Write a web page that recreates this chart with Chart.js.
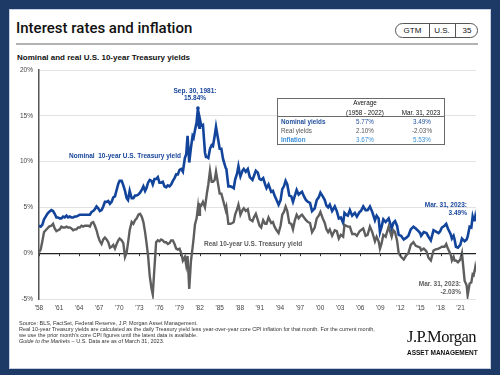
<!DOCTYPE html>
<html>
<head>
<meta charset="utf-8">
<script src="https://cdn.jsdelivr.net/npm/chart.js@4.4.1/dist/chart.umd.min.js"></script>
<style>
html, body { margin: 0; padding: 0; }
body { width: 500px; height: 375px; background: #1d3966; position: relative; overflow: hidden; font-family: "Liberation Sans", Arial, sans-serif; }
#panel { position: absolute; left: 9px; top: 9px; width: 482px; height: 360px; background: #fff; border: 1px solid #c5cfdf; box-sizing: border-box; }
#chart { position: absolute; left: 0; top: 0; }
.t { position: absolute; white-space: nowrap; line-height: 1; }
.title { left: 16px; top: 21px; font-family: Roboto, "Liberation Sans", sans-serif; font-weight: 500; font-size: 15px; color: #111; }
.rule { position: absolute; left: 16px; top: 43px; width: 462px; height: 2px; background: #b3b3b3; }
.badge { position: absolute; left: 395px; top: 23px; width: 83px; height: 15px; border: 1px solid #555; border-radius: 8px; box-sizing: border-box; }
.badge span { position: absolute; top: 3px; font-size: 8px; line-height: 1; color: #111; transform: translateX(-50%); }
.badge i { position: absolute; top: 0; width: 1px; height: 13px; background: #555; }
.sub { left: 17px; top: 54px; font-size: 8px; font-weight: bold; color: #111; }
.ann { font-size: 6.5px; font-weight: bold; }
.blue { color: #17459a; }
.grey { color: #5e5e5e; }
.tbl { position: absolute; left: 277px; top: 98px; width: 168px; height: 47px; border: 1.5px solid #6a6a6a; box-sizing: border-box; background: #fff; }
.tbl .hr { position: absolute; left: 0; right: 0; top: 17px; height: 1px; background: #6a6a6a; }
.tt { font-size: 6.3px; }
.c { transform: translateX(-50%); }
.r { transform: translateX(-100%); text-align: right; }
.foot { left: 19px; top: 319.5px; font-size: 5.5px; line-height: 6.1px; color: #333; }
.logo { left: 407px; top: 328.5px; font-family: "Liberation Serif", serif; font-size: 16.5px; letter-spacing: -0.5px; color: #111; }
.am { left: 407px; top: 350px; font-size: 6.5px; font-weight: bold; color: #111; }
</style>
</head>
<body>
<div id="panel"></div>
<div class="t title">Interest rates and inflation</div>
<div class="rule"></div>
<div class="badge">
  <span style="left:16.5px">GTM</span><i style="left:33px"></i>
  <span style="left:46px">U.S.</span><i style="left:58.5px"></i>
  <span style="left:71px">35</span>
</div>
<div class="t sub">Nominal and real U.S. 10-year Treasury yields</div>

<canvas id="chart" width="500" height="375"></canvas>

<div class="t ann blue c" style="left:195px;top:88px">Sep. 30, 1981:</div>
<div class="t ann blue c" style="left:195px;top:95px">15.84%</div>
<div class="t ann blue" style="left:69px;top:153px">Nominal&nbsp; 10-year U.S. Treasury yield</div>
<div class="t ann grey" style="left:204px;top:241px">Real 10-year U.S. Treasury yield</div>
<div class="t ann blue r" style="left:467px;top:202px">Mar. 31, 2023:</div>
<div class="t ann blue r" style="left:467px;top:210px">3.49%</div>
<div class="t ann grey r" style="left:461px;top:281px">Mar. 31, 2023:</div>
<div class="t ann grey r" style="left:461px;top:289px">-2.03%</div>

<div class="tbl"><div class="hr"></div></div>
<div class="t tt c" style="left:365px;top:100px;color:#111">Average</div>
<div class="t tt c" style="left:365px;top:109.5px;color:#111">(1958 - 2022)</div>
<div class="t tt c" style="left:421px;top:109.5px;color:#111">Mar. 31, 2023</div>
<div class="t tt" style="left:281px;top:119px;color:#1f4e9b;font-weight:bold">Nominal yields</div>
<div class="t tt c" style="left:365px;top:119px;color:#1f4e9b">5.77%</div>
<div class="t tt c" style="left:422px;top:119px;color:#1f4e9b">3.49%</div>
<div class="t tt" style="left:281px;top:128px;color:#555">Real yields</div>
<div class="t tt c" style="left:365px;top:128px;color:#555">2.10%</div>
<div class="t tt c" style="left:422px;top:128px;color:#555">-2.03%</div>
<div class="t tt" style="left:281px;top:137px;color:#3a8fd8;font-weight:bold">Inflation</div>
<div class="t tt c" style="left:365px;top:137px;color:#3a8fd8">3.67%</div>
<div class="t tt c" style="left:422px;top:137px;color:#3a8fd8">5.53%</div>

<div class="t foot">Source: BLS, FactSet, Federal Reserve, J.P. Morgan Asset Management.<br>Real 10-year Treasury yields are calculated as the daily Treasury yield less year-over-year core CPI inflation for that month. For the current month,<br>we use the prior month's core CPI figures until the latest data is available.<br><i>Guide to the Markets</i> – U.S. Data are as of March 31, 2023.</div>
<div class="t logo">J.P.Morgan</div>
<div class="t am">ASSET MANAGEMENT</div>

<script>
// decimal years
const dates = [
  1958.0, 1958.25, 1958.5, 1958.75, 1959.0, 1959.25, 1959.5, 1959.85,
  1960.1, 1960.35, 1960.6, 1960.85, 1961.1, 1961.35, 1961.6, 1961.85,
  1962.1, 1962.35, 1962.6, 1962.85, 1963.1, 1963.35, 1963.6, 1963.85,
  1964.1, 1964.35, 1964.6, 1964.85, 1965.1, 1965.35, 1965.6, 1965.85,
  1966.1, 1966.35, 1966.6, 1966.85, 1967.1, 1967.35, 1967.6, 1967.85,
  1968.1, 1968.35, 1968.6, 1968.85, 1969.1, 1969.35, 1969.6, 1969.85,
  1970.05, 1970.35, 1970.6, 1970.85, 1971.1, 1971.3, 1971.55, 1971.85,
  1972.1, 1972.35, 1972.6, 1972.85, 1973.1, 1973.35, 1973.6, 1973.85,
  1974.05, 1974.3, 1974.55, 1974.8, 1975.0, 1975.25, 1975.5, 1975.75,
  1976.0, 1976.25, 1976.5, 1976.75, 1977.0, 1977.25, 1977.5, 1977.75,
  1978.0, 1978.25, 1978.5, 1978.75, 1979.0, 1979.25, 1979.5, 1979.8,
  1980.0, 1980.2, 1980.45, 1980.7, 1980.95, 1981.1, 1981.3, 1981.55,
  1981.75, 1981.85, 1981.95, 1982.05, 1982.25, 1982.5, 1982.8, 1982.95,
  1983.1, 1983.3, 1983.55, 1983.8, 1984.0, 1984.25, 1984.45, 1984.75,
  1985.0, 1985.25, 1985.5, 1985.9, 1986.0, 1986.3, 1986.6, 1986.9,
  1987.1, 1987.3, 1987.6, 1987.8, 1987.95, 1988.1, 1988.4, 1988.6,
  1988.9, 1989.2, 1989.5, 1989.9, 1990.1, 1990.4, 1990.7, 1990.95,
  1991.2, 1991.5, 1991.8, 1992.0, 1992.3, 1992.7, 1992.95, 1993.2,
  1993.5, 1993.8, 1994.1, 1994.35, 1994.6, 1994.85, 1995.1, 1995.4,
  1995.7, 1995.95, 1996.2, 1996.5, 1996.8, 1997.1, 1997.3, 1997.6,
  1997.9, 1998.2, 1998.5, 1998.8, 1999.2, 1999.5, 1999.8, 2000.05,
  2000.4, 2000.7, 2000.95, 2001.2, 2001.45, 2001.8, 2002.2, 2002.5,
  2002.8, 2003.1, 2003.45, 2003.65, 2003.9, 2004.15, 2004.45, 2004.8,
  2005.2, 2005.5, 2005.9, 2006.1, 2006.45, 2006.8, 2007.1, 2007.45,
  2007.8, 2008.2, 2008.45, 2008.75, 2008.95, 2009.2, 2009.45, 2009.8,
  2010.25, 2010.7, 2010.95, 2011.2, 2011.5, 2011.75, 2012.1, 2012.5,
  2012.9, 2013.2, 2013.55, 2013.95, 2014.3, 2014.7, 2014.95, 2015.1,
  2015.5, 2015.9, 2016.2, 2016.55, 2016.95, 2017.2, 2017.7, 2017.95,
  2018.2, 2018.6, 2018.85, 2019.1, 2019.5, 2019.7, 2019.95, 2020.1,
  2020.3, 2020.6, 2020.95, 2021.2, 2021.6, 2021.9, 2022.05, 2022.35,
  2022.6, 2022.8, 2022.95, 2023.1, 2023.17, 2023.25
];

const nominalYield = [
  3.0, 2.9, 3.1, 3.7, 4.0, 4.3, 4.5, 4.7,
  4.6, 4.3, 3.9, 3.9, 3.8, 3.8, 4.0, 3.9,
  4.1, 3.9, 4.0, 3.9, 3.9, 4.0, 4.0, 4.1,
  4.2, 4.2, 4.2, 4.2, 4.2, 4.2, 4.2, 4.5,
  4.6, 4.8, 5.1, 4.9, 4.6, 4.7, 5.1, 5.6,
  5.6, 5.7, 5.4, 5.6, 6.1, 6.2, 6.9, 7.6,
  7.9, 7.9, 7.4, 6.8, 6.0, 5.8, 6.8, 6.0,
  6.0, 6.3, 6.3, 6.4, 6.6, 6.9, 7.3, 6.8,
  7.1, 7.7, 8.0, 7.9, 7.5, 8.1, 8.1, 8.3,
  7.7, 7.7, 7.8, 7.3, 7.2, 7.4, 7.3, 7.5,
  7.9, 8.2, 8.6, 8.6, 9.1, 9.2, 8.9, 10.4,
  10.8, 12.8, 9.9, 11.5, 12.8, 12.6, 13.4, 14.3,
  15.84, 14.0, 13.7, 14.6, 13.9, 14.0, 11.0, 10.5,
  10.5, 10.4, 11.4, 11.8, 11.7, 12.8, 13.8, 12.5,
  11.4, 11.4, 10.3, 9.3, 9.2, 7.3, 7.3, 7.2,
  7.1, 8.0, 8.7, 9.5, 8.9, 8.4, 9.0, 9.2,
  8.9, 9.2, 8.3, 8.0, 8.4, 9.0, 8.8, 8.1,
  8.0, 8.2, 7.5, 7.1, 7.5, 6.7, 6.8, 6.3,
  5.8, 5.3, 5.8, 7.0, 7.3, 7.9, 7.5, 6.3,
  6.2, 5.6, 6.2, 6.9, 6.4, 6.6, 6.7, 6.2,
  5.8, 5.6, 5.5, 4.6, 4.9, 5.8, 6.1, 6.6,
  6.2, 5.8, 5.2, 5.0, 5.3, 4.6, 5.1, 4.6,
  3.8, 3.9, 3.3, 4.4, 4.2, 4.1, 4.7, 4.1,
  4.4, 4.0, 4.5, 4.6, 5.1, 4.7, 4.7, 5.1,
  4.5, 3.6, 4.1, 3.8, 2.3, 2.9, 3.7, 3.4,
  3.8, 2.7, 3.3, 3.5, 3.0, 2.0, 1.9, 1.5,
  1.7, 1.9, 2.6, 2.9, 2.7, 2.4, 2.2, 1.9,
  2.3, 2.2, 1.8, 1.4, 2.5, 2.4, 2.2, 2.4,
  2.8, 3.0, 3.2, 2.7, 2.1, 1.6, 1.9, 1.5,
  0.7, 0.6, 0.9, 1.6, 1.3, 1.5, 1.8, 2.9,
  2.8, 4.0, 3.6, 3.6, 3.9, 3.49
];

const realYield = [
  0.1, 0.4, 1.3, 2.3, 2.5, 2.7, 2.9, 3.0,
  3.2, 2.7, 2.4, 2.5, 2.6, 2.9, 2.8, 2.8,
  2.9, 2.8, 2.8, 2.7, 2.5, 2.6, 2.6, 2.8,
  2.8, 3.0, 2.9, 3.0, 3.0, 3.0, 2.9, 3.3,
  3.4, 3.0, 2.5, 1.8, 1.3, 1.0, 1.5, 1.7,
  1.5, 1.2, 0.6, 0.7, 0.9, 0.5, 1.0, 1.4,
  1.6, 1.4, 1.1, -0.4, 0.1, 1.1, 2.5, 3.4,
  3.2, 3.6, 3.8, 4.2, 4.3, 4.0, 3.4, 2.3,
  1.2, -0.3, -2.5, -3.8, -4.5, -1.6, 1.2, 1.4,
  1.3, 1.5, 1.4, 1.2, 1.2, 1.0, 1.1, 1.4,
  1.4, 1.0, 0.5, 0.4, 0.5, 0.0, -0.8, -0.4,
  -1.3, -0.3, -3.9, -0.9, 0.6, 1.6, 3.1, 3.8,
  5.0, 4.2, 4.2, 5.3, 5.2, 5.6, 5.0, 5.8,
  6.6, 7.5, 9.0, 7.8, 7.8, 8.0, 8.9, 7.6,
  6.5, 6.5, 5.8, 4.7, 5.0, 3.2, 3.2, 3.3,
  3.4, 4.2, 4.8, 5.3, 4.8, 4.2, 4.7, 4.9,
  4.6, 4.8, 3.7, 3.5, 3.9, 4.3, 3.6, 3.0,
  2.8, 3.6, 3.2, 3.2, 3.9, 3.3, 3.4, 2.9,
  2.5, 2.2, 3.0, 4.2, 4.5, 5.1, 4.6, 3.3,
  3.2, 2.6, 3.5, 4.2, 3.8, 4.1, 4.2, 3.9,
  3.6, 3.4, 3.3, 2.3, 2.8, 3.8, 4.1, 4.5,
  3.8, 3.3, 2.6, 2.3, 2.6, 1.9, 2.5, 2.4,
  1.6, 2.0, 1.8, 3.1, 3.0, 2.9, 2.9, 2.1,
  2.1, 1.9, 2.4, 2.5, 2.7, 1.9, 2.0, 2.9,
  2.3, 1.3, 1.8, 1.3, 0.5, 1.1, 2.0, 1.8,
  2.9, 1.8, 2.5, 2.3, 1.4, 0.0, -0.4, -0.7,
  -0.2, 0.0, 0.9, 1.2, 0.8, 0.7, 0.6, 0.3,
  0.5, 0.2, -0.5, -0.8, 0.3, 0.4, 0.5, 0.6,
  0.7, 0.7, 1.0, 0.5, -0.1, -0.8, -0.4, -0.8,
  -0.8, -1.0, -0.7, 0.0, -3.0, -3.5, -4.6, -3.3,
  -3.2, -2.3, -2.4, -1.9, -1.6, -2.03
];

const xTickYears = [1958, 1961, 1964, 1967, 1970, 1973, 1976, 1979, 1982, 1985, 1988,
  1991, 1994, 1997, 2000, 2003, 2006, 2009, 2012, 2015, 2018, 2021];
const yTicks = [-5, 0, 5, 10, 15, 20];

const peakIndex = nominalYield.indexOf(Math.max(...nominalYield));

// small tick marks hanging from the 0% line
const zeroTicks = {
    id: 'zeroTicks',
    afterDatasetsDraw(chart) {
        const ctx = chart.ctx;
        const x = chart.scales.x;
        const y0 = chart.scales.y.getPixelForValue(0);
        ctx.save();
        ctx.strokeStyle = '#333';
        ctx.lineWidth = 1;
        xTickYears.forEach(v => {
            const px = Math.round(x.getPixelForValue(v)) + 0.5;
            ctx.beginPath();
            ctx.moveTo(px, y0);
            ctx.lineTo(px, y0 + 3);
            ctx.stroke();
        });
        ctx.restore();
    }
};

const font = { family: '"Liberation Sans", Arial, sans-serif', size: 6.5 };

new Chart(document.getElementById('chart'), {
    type: 'line',
    data: {
        datasets: [
            {
                label: 'Real 10-year U.S. Treasury yield',
                data: dates.map((d, i) => ({ x: d, y: realYield[i] })),
                borderColor: '#5e5e5e',
                borderWidth: 2.4,
                pointRadius: 0,
                tension: 0
            },
            {
                label: 'Nominal 10-year U.S. Treasury yield',
                data: dates.map((d, i) => ({ x: d, y: nominalYield[i] })),
                borderColor: '#12449b',
                backgroundColor: '#12449b',
                borderWidth: 2.6,
                pointRadius: ctx => ctx.dataIndex === peakIndex ? 1.8 : 0,
                pointBorderWidth: 0,
                tension: 0
            }
        ]
    },
    options: {
        responsive: false,
        animation: false,
        layout: { padding: { top: 70, right: 24, bottom: 0, left: 0 } },
        plugins: {
            legend: { display: false },
            tooltip: { enabled: false }
        },
        scales: {
            x: {
                type: 'linear',
                min: 1958,
                max: 2023.3,
                afterFit: s => { s.height = 76; },
                afterBuildTicks: s => { s.ticks = xTickYears.map(v => ({ value: v })); },
                grid: { display: false, drawTicks: false },
                border: { display: false },
                ticks: {
                    autoSkip: false,
                    maxRotation: 0,
                    padding: 5,
                    color: '#444',
                    font: font,
                    callback: v => "'" + String(v).slice(2)
                }
            },
            y: {
                min: -5,
                max: 20,
                afterFit: s => { s.width = 39; },
                afterBuildTicks: s => { s.ticks = yTicks.map(v => ({ value: v })); },
                grid: {
                    drawTicks: false,
                    color: ctx => ctx.tick && ctx.tick.value === 0 ? '#222' : '#e2e2e2',
                    lineWidth: ctx => ctx.tick && ctx.tick.value === 0 ? 1.2 : 1
                },
                border: { display: true, color: '#555', width: 1.5 },
                ticks: {
                    padding: 6,
                    color: '#444',
                    font: font,
                    callback: v => v + '%'
                }
            }
        }
    },
    plugins: [zeroTicks]
});
</script>
</body>
</html>
